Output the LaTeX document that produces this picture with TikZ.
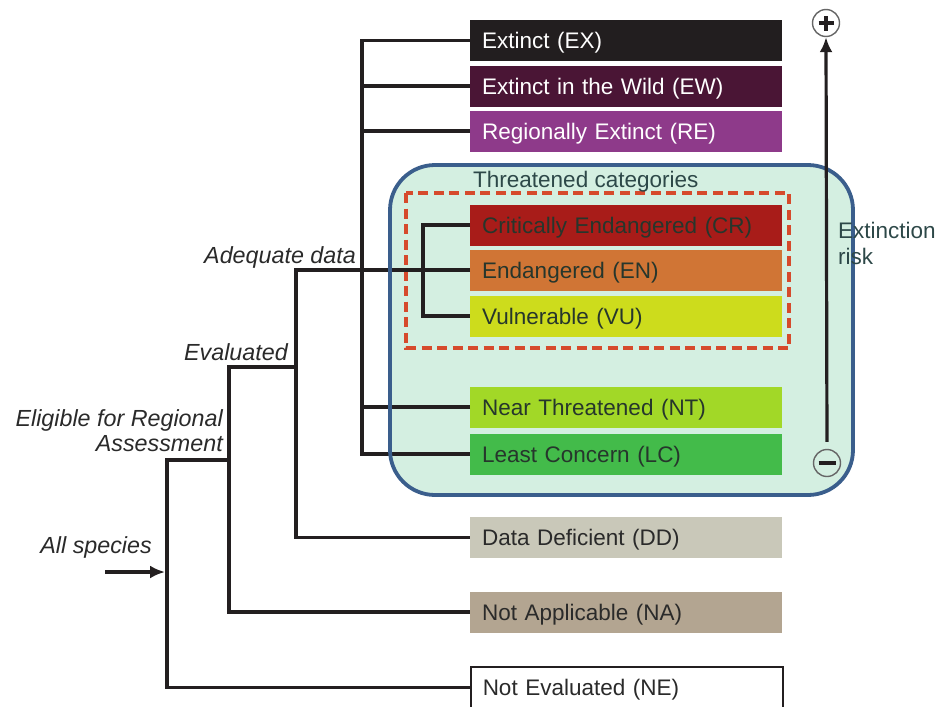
\documentclass[tikz,border=0pt]{standalone}
\usepackage{fontspec}
\setmainfont{Liberation Sans}
\usetikzlibrary{arrows.meta}
\definecolor{cEX}{HTML}{221E1F}
\definecolor{cEW}{HTML}{4A1535}
\definecolor{cRE}{HTML}{8E3A8A}
\definecolor{cCR}{HTML}{A81C19}
\definecolor{cEN}{HTML}{D07535}
\definecolor{cVU}{HTML}{CDDC1C}
\definecolor{cNT}{HTML}{A2D827}
\definecolor{cLC}{HTML}{43BB4A}
\definecolor{cDD}{HTML}{C9C8B9}
\definecolor{cNA}{HTML}{B3A591}
\definecolor{mint}{HTML}{D4EFE1}
\definecolor{frameblue}{HTML}{3A5E8C}
\definecolor{dashred}{HTML}{D64A2C}
\definecolor{treeline}{HTML}{231F20}
\definecolor{darktext}{HTML}{2A2A2A}
\definecolor{greentext}{HTML}{26362C}
\definecolor{tealtext}{HTML}{2D4848}
\newcommand\catfont{\fontsize{22.5}{26}\selectfont}
\newcommand\lblfont{\fontsize{23.3}{25}\selectfont\itshape}
\begin{document}
\begin{tikzpicture}[x=1pt,y=-1pt,
  cat/.style={anchor=west, minimum height=41pt, text width=288pt, text height=20pt, text depth=4pt, inner xsep=12pt, inner ysep=0pt, align=left, font=\catfont},
  light/.style={cat, text=white},
  dark/.style={cat, text=greentext},
  plain/.style={cat, text=darktext},
  tree/.style={draw=treeline, line width=3.4pt, line join=miter},
  lbl/.style={font=\lblfont, text=darktext, inner sep=0pt},
  sign/.style={circle, draw=black!60, line width=1.4pt, minimum size=27pt, inner sep=0pt},
  signbar/.style={line width=3.2pt, draw=treeline}
]
\useasboundingbox (0,0) rectangle (943,707);

% threatened area background
\fill[mint, rounded corners=45pt] (390,165) rectangle (853,495);
\draw[dashred, line width=3.2pt, dash pattern=on 10pt off 5.5pt] (406,193) rectangle (789,348);
\node[anchor=west, font=\catfont, text=tealtext, inner sep=0pt] (thr) at (473,182) {Threatened categories};

% category boxes
\node[light, fill=cEX] (ex) at (470,40.5) {Extinct (EX)};
\node[light, fill=cEW] (ew) at (470,86) {Extinct in the Wild (EW)};
\node[light, fill=cRE] (re) at (470,131) {Regionally Extinct (RE)};
\node[dark, fill=cCR] (cr) at (470,225) {Critically Endangered (CR)};
\node[dark, fill=cEN] (en) at (470,270) {Endangered (EN)};
\node[dark, fill=cVU] (vu) at (470,316) {Vulnerable (VU)};
\node[dark, fill=cNT] (nt) at (470,407) {Near Threatened (NT)};
\node[dark, fill=cLC] (lc) at (470,454) {Least Concern (LC)};
\node[plain, fill=cDD] (dd) at (470,537.5) {Data Deficient (DD)};
\node[plain, fill=cNA] (na) at (470,612) {Not Applicable (NA)};
\node[plain, fill=white, draw=treeline, line width=1.5pt] (ne) at (470,687.5) {Not Evaluated (NE)};

% spine coordinates
\coordinate (s1) at (362,0);
\coordinate (s2) at (423,0);
\coordinate (s3) at (296,0);
\coordinate (s4) at (229,0);
\coordinate (s5) at (167,0);
\coordinate (ev) at (296,367);
\coordinate (el) at (229,460);
\coordinate (as) at (105,572);

% tree
\draw[tree] (ex.west) -- (ex.west -| s1) -- (lc.west -| s1) -- (lc.west);
\draw[tree] (ew.west) -- (ew.west -| s1);
\draw[tree] (re.west) -- (re.west -| s1);
\draw[tree] (nt.west) -- (nt.west -| s1);
\draw[tree] (cr.west) -- (cr.west -| s2) -- (vu.west -| s2) -- (vu.west);
\draw[tree] (en.west) -- (en.west -| s3) -- (dd.west -| s3) -- (dd.west);
\draw[tree] (ev) -- (ev -| s4) -- (na.west -| s4) -- (na.west);
\draw[tree] (el) -- (el -| s5) -- (ne.west -| s5) -- (ne.west);
\draw[tree, -{Latex[length=15pt,width=13pt]}] (as) -- ([xshift=-2pt]as -| s5);

% frame
\draw[frameblue, line width=3.8pt, rounded corners=45pt] (390,165) rectangle (853,495);

% labels
\node[lbl, anchor=east] (adq) at (356,257) {Adequate data};
\node[lbl, anchor=east] (evl) at (288,352) {Evaluated};
\node[lbl, anchor=east, align=right] (elg) at (223,430.5) {Eligible for Regional\\Assessment};
\node[lbl, anchor=east] (all) at (152,547) {All species};

% extinction risk axis
\node[sign] (plus) at (826,23) {};
\draw[signbar] ([xshift=-7.5pt]plus.center) -- ([xshift=7.5pt]plus.center);
\draw[signbar] ([yshift=-7.5pt]plus.center) -- ([yshift=7.5pt]plus.center);
\node[sign] (minus) at (827,463) {};
\draw[signbar] ([xshift=-8.5pt]minus.center) -- ([xshift=8.5pt]minus.center);
\draw[draw=treeline, line width=3.2pt, shorten <=7pt, -{Latex[length=15pt,width=13pt]}] (minus.north) -- (plus.south);
\node[anchor=west, align=left, font=\catfont, text=tealtext, inner sep=0pt] (risk) at (838,243) {Extinction\\risk};
\end{tikzpicture}
\end{document}
